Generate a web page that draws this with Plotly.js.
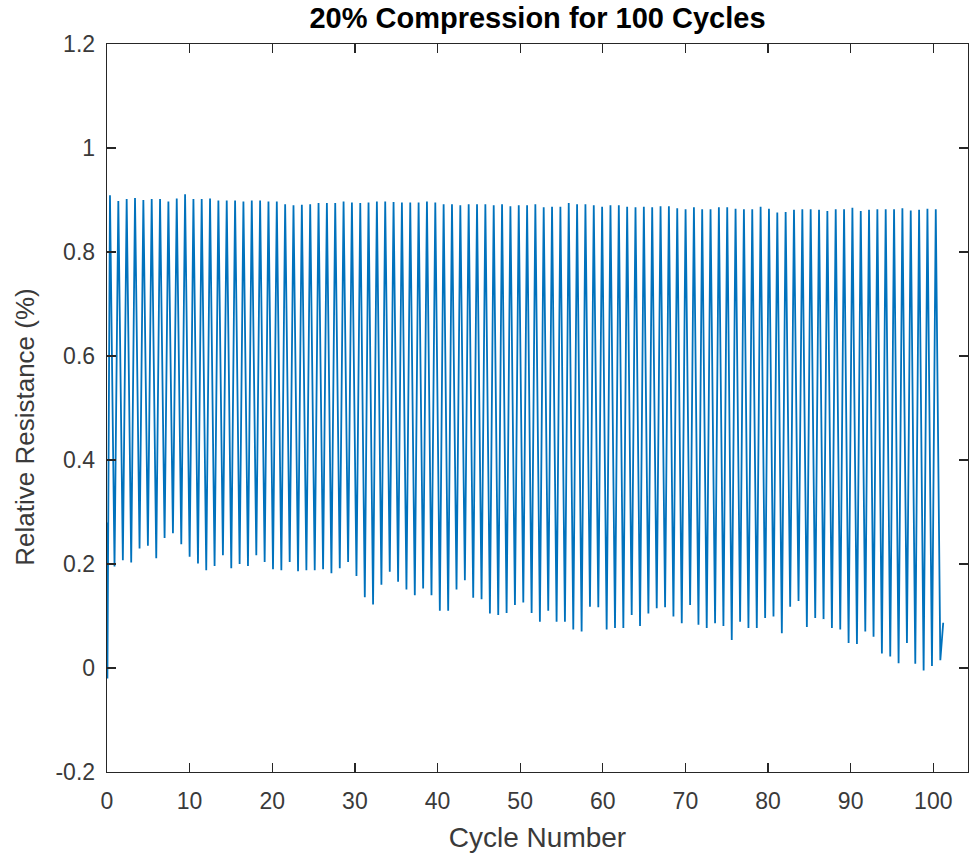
<!DOCTYPE html>
<html>
<head>
<meta charset="utf-8">
<script src="https://cdn.plot.ly/plotly-3.0.1.min.js"></script>
<style>html,body{margin:0;padding:0;background:#fff;}#chart{width:969px;height:856px;}</style>
</head>
<body>
<div id="chart"></div>
<script>
// Start of the recording (before first peak)
var startX = [0, 0.05];
var startY = [0.28, -0.02];

// Peak of each compression cycle
var peakX = [0.36,1.37,2.38,3.39,4.40,5.41,6.42,7.43,8.44,9.45,
10.46,11.46,12.47,13.48,14.49,15.50,16.51,17.52,18.53,19.54,
20.55,21.56,22.57,23.58,24.59,25.60,26.61,27.62,28.63,29.64,
30.65,31.65,32.66,33.67,34.68,35.69,36.70,37.71,38.72,39.73,
40.74,41.75,42.76,43.77,44.78,45.79,46.80,47.81,48.82,49.83,
50.84,51.84,52.85,53.86,54.87,55.88,56.89,57.90,58.91,59.92,
60.93,61.94,62.95,63.96,64.97,65.98,66.99,68.00,69.01,70.02,
71.03,72.03,73.04,74.05,75.06,76.07,77.08,78.09,79.10,80.11,
81.12,82.13,83.14,84.15,85.16,86.17,87.18,88.19,89.20,90.21,
91.22,92.22,93.23,94.24,95.25,96.26,97.27,98.28,99.29,100.30];
var peakY = [0.909,0.898,0.902,0.904,0.900,0.902,0.902,0.897,0.903,0.911,
0.902,0.902,0.903,0.899,0.899,0.899,0.897,0.899,0.899,0.897,
0.897,0.892,0.890,0.891,0.892,0.894,0.894,0.894,0.897,0.895,
0.894,0.895,0.897,0.897,0.896,0.895,0.895,0.895,0.897,0.895,
0.892,0.892,0.890,0.892,0.892,0.892,0.890,0.892,0.888,0.890,
0.890,0.892,0.886,0.887,0.887,0.894,0.892,0.892,0.890,0.887,
0.890,0.890,0.887,0.886,0.887,0.886,0.888,0.888,0.884,0.882,
0.886,0.882,0.882,0.886,0.886,0.883,0.882,0.882,0.887,0.883,
0.876,0.877,0.881,0.882,0.882,0.881,0.879,0.882,0.882,0.885,
0.879,0.881,0.882,0.882,0.882,0.884,0.880,0.881,0.883,0.882];

// Valley following each peak
var valleyX = [0.91,1.92,2.93,3.94,4.95,5.96,6.97,7.98,8.99,10.00,
11.01,12.01,13.02,14.03,15.04,16.05,17.06,18.07,19.08,20.09,
21.10,22.11,23.12,24.13,25.14,26.15,27.16,28.17,29.18,30.19,
31.20,32.20,33.21,34.22,35.23,36.24,37.25,38.26,39.27,40.28,
41.29,42.30,43.31,44.32,45.33,46.34,47.35,48.36,49.37,50.38,
51.39,52.39,53.40,54.41,55.42,56.43,57.44,58.45,59.46,60.47,
61.48,62.49,63.50,64.51,65.52,66.53,67.54,68.55,69.56,70.57,
71.58,72.58,73.59,74.60,75.61,76.62,77.63,78.64,79.65,80.66,
81.67,82.68,83.69,84.70,85.71,86.72,87.73,88.74,89.75,90.76,
91.77,92.77,93.78,94.79,95.80,96.81,97.82,98.83,99.84,100.85];
var valleyY = [0.195,0.207,0.203,0.230,0.235,0.211,0.250,0.259,0.238,0.214,
0.201,0.188,0.196,0.217,0.192,0.200,0.196,0.217,0.204,0.190,
0.188,0.204,0.186,0.188,0.188,0.190,0.182,0.192,0.204,0.177,
0.136,0.122,0.160,0.185,0.166,0.151,0.140,0.153,0.140,0.110,
0.110,0.151,0.169,0.135,0.132,0.105,0.102,0.106,0.121,0.126,
0.106,0.089,0.110,0.089,0.089,0.074,0.070,0.118,0.117,0.074,
0.077,0.077,0.102,0.081,0.105,0.115,0.117,0.099,0.086,0.121,
0.083,0.077,0.086,0.081,0.054,0.089,0.077,0.077,0.096,0.099,
0.067,0.118,0.129,0.079,0.096,0.094,0.077,0.074,0.048,0.046,
0.070,0.060,0.028,0.022,0.009,0.048,0.008,-0.005,0.004,0.015];

// End of the recording
var endX = [101.2];
var endY = [0.087];

var xTickVals = [0,10,20,30,40,50,60,70,80,90,100];
var xTickText = ['0','10','20','30','40','50','60','70','80','90','100'];
var yTickVals = [-0.2,0,0.2,0.4,0.6,0.8,1,1.2];
var yTickText = ['-0.2','0','0.2','0.4','0.6','0.8','1','1.2'];

// assemble the trace from the arrays
var xs = startX.slice(), ys = startY.slice();
for (var i = 0; i < peakX.length; i++) {
  xs.push(peakX[i]); ys.push(peakY[i]);
  xs.push(valleyX[i]); ys.push(valleyY[i]);
}
xs = xs.concat(endX); ys = ys.concat(endY);

var FONT = 'Liberation Sans, Arial, Helvetica, sans-serif';
var AX = '#262626';
var TXT = '#3a3a3a';

var trace = {
  x: xs, y: ys, type: 'scatter', mode: 'lines',
  line: {color: '#0072BD', width: 1.8},
  hoverinfo: 'skip', showlegend: false
};

var layout = {
  width: 969, height: 856,
  margin: {l: 107, r: 1, t: 44, b: 84, pad: 0},
  paper_bgcolor: '#ffffff', plot_bgcolor: '#ffffff',
  showlegend: false,
  title: {
    text: '20% Compression for 100 Cycles',
    font: {family: FONT, size: 29, color: '#000000', weight: 700},
    x: 0.5, xref: 'paper', xanchor: 'center',
    y: 0.979, yref: 'container', yanchor: 'middle'
  },
  xaxis: {
    range: [0, 104.2], autorange: false,
    tickmode: 'array', tickvals: xTickVals, ticktext: xTickText,
    ticks: 'inside', ticklen: 9, tickwidth: 1.3, tickcolor: AX,
    showline: true, linecolor: AX, linewidth: 1.3, mirror: 'allticks',
    showgrid: false, zeroline: false,
    tickfont: {family: FONT, size: 23, color: TXT},
    ticklabelstandoff: 8,
    title: {text: 'Cycle Number', font: {family: FONT, size: 28, color: TXT}, standoff: 14},
    automargin: false, fixedrange: true
  },
  yaxis: {
    range: [-0.2, 1.2], autorange: false,
    tickmode: 'array', tickvals: yTickVals, ticktext: yTickText,
    ticks: 'inside', ticklen: 9, tickwidth: 1.3, tickcolor: AX,
    showline: true, linecolor: AX, linewidth: 1.3, mirror: 'allticks',
    showgrid: false, zeroline: false,
    tickfont: {family: FONT, size: 23, color: TXT},
    ticklabelstandoff: 6,
    automargin: false, fixedrange: true
  },
  annotations: [{
    text: 'Relative Resistance (%)',
    font: {family: FONT, size: 26, color: TXT},
    textangle: -90, showarrow: false,
    xref: 'paper', yref: 'paper',
    x: -0.0955, y: 0.474, xanchor: 'center', yanchor: 'middle'
  }]
};

Plotly.newPlot('chart', [trace], layout, {displayModeBar: false, staticPlot: true});
</script>
</body>
</html>
